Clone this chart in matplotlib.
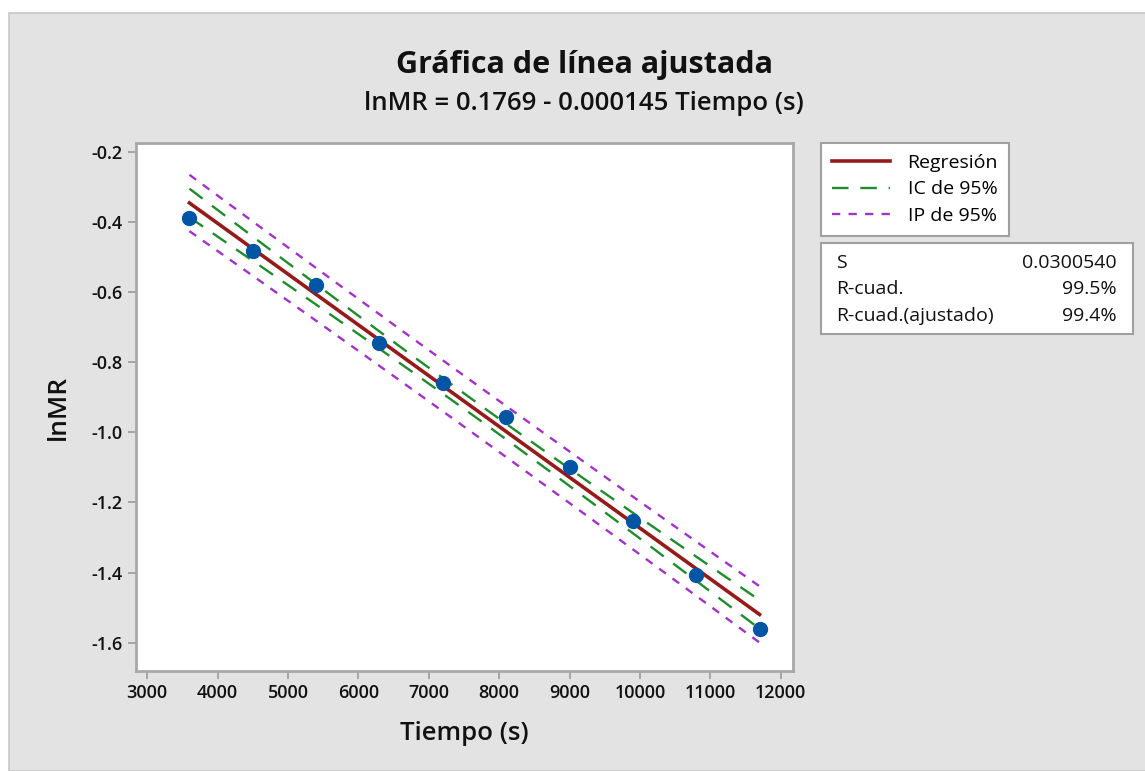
import numpy as np
import matplotlib
matplotlib.use("Agg")
import matplotlib.pyplot as plt
from matplotlib.patches import Rectangle
from matplotlib.lines import Line2D

plt.rcParams["font.family"] = ["Open Sans", "DejaVu Sans"]

# measurements: drying time (s) vs ln of moisture ratio
tiempo = np.array([3600, 4500, 5400, 6300, 7200, 8100, 9000, 9900, 10800, 11700])
ln_mr = np.array([-0.388, -0.482, -0.580, -0.745, -0.860, -0.957, -1.098,
                  -1.252, -1.407, -1.561])

# fitted model as reported
intercept = 0.1769
slope = -0.000145
s_value = 0.0300540
r_sq = 99.5
r_sq_adj = 99.4
t_crit = 2.306  # t(0.975, n-2) with n = 10

xticks = [3000, 4000, 5000, 6000, 7000, 8000, 9000, 10000, 11000, 12000]
yticks = [-0.2, -0.4, -0.6, -0.8, -1.0, -1.2, -1.4, -1.6]

W, H = 1145, 771
fig = plt.figure(figsize=(W / 100, H / 100), dpi=100, facecolor="white")

# grey panel behind everything
fig.patches.append(Rectangle((9 / W, 0), 1, 1 - 13 / H, transform=fig.transFigure,
                             facecolor="#E3E3E3", edgecolor="#C8C8C8", lw=1.2,
                             zorder=0))

ax = fig.add_axes([136 / W, 1 - 671 / H, (793 - 136) / W, (671 - 143) / H])
ax.set_zorder(2)
ax.set_facecolor("white")

# fitted line with confidence / prediction bands
xs = np.linspace(tiempo.min(), tiempo.max(), 200)
fit = intercept + slope * xs
n = len(tiempo)
sxx = np.sum((tiempo - tiempo.mean()) ** 2)
lev = 1 / n + (xs - tiempo.mean()) ** 2 / sxx
ci = t_crit * s_value * np.sqrt(lev)
pi = t_crit * s_value * np.sqrt(1 + lev)

ci_col = "#1E8C2A"
pi_col = "#A232C8"
reg_col = "#951B1B"
ax.plot(xs, fit + pi, color=pi_col, lw=1.7, dashes=(3.5, 3.5), zorder=2)
ax.plot(xs, fit - pi, color=pi_col, lw=1.7, dashes=(3.5, 3.5), zorder=2)
ax.plot(xs, fit + ci, color=ci_col, lw=1.7, dashes=(7, 5), zorder=2)
ax.plot(xs, fit - ci, color=ci_col, lw=1.7, dashes=(7, 5), zorder=2)
ax.plot(xs, fit, color=reg_col, lw=2.6, zorder=3)
ax.plot(tiempo, ln_mr, "o", color="#0055A5", ms=10, mec="#0055A5", zorder=4)

ax.set_xlim(2841, 12175)
ax.set_ylim(-1.681, -0.174)
ax.set_xticks(xticks)
ax.set_yticks(yticks)
ax.set_xticklabels([str(v) for v in xticks])
ax.set_yticklabels(["%.1f" % v for v in yticks])
ax.tick_params(colors="#A0A0A0", labelcolor="#111111", labelsize=13,
               length=6, width=1.3, direction="out")
for lab in ax.get_xticklabels() + ax.get_yticklabels():
    lab.set_fontweight("semibold")
for sp in ax.spines.values():
    sp.set_color("#A8A8A8")
    sp.set_linewidth(2)

fig.text(584 / W, 1 - 65 / H, "Gráfica de línea ajustada", ha="center",
         va="center", fontsize=22, fontweight="bold", color="#111111")
fig.text(584 / W, 1 - 104 / H,
         "lnMR = %.4f - %.6f Tiempo (s)" % (intercept, -slope), ha="center",
         va="center", fontsize=18.5, fontweight="semibold", color="#111111")
fig.text(464 / W, 1 - 733 / H, "Tiempo (s)", ha="center", va="center",
         fontsize=18.5, fontweight="semibold", color="#111111")
fig.text(58 / W, 1 - 407 / H, "lnMR", ha="center", va="center", rotation=90,
         fontsize=19, fontweight="semibold", color="#111111")

# legend box
handles = [Line2D([], [], color=reg_col, lw=2.6),
           Line2D([], [], color=ci_col, lw=1.7, dashes=(7, 5)),
           Line2D([], [], color=pi_col, lw=1.7, dashes=(3.5, 3.5))]
leg = fig.legend(handles, ["Regresión", "IC de 95%", "IP de 95%"],
                 loc="upper left", bbox_to_anchor=(821 / W, 1 - 143 / H),
                 bbox_transform=fig.transFigure, fontsize=14, frameon=True,
                 fancybox=False, framealpha=1, handlelength=3.0,
                 handletextpad=0.9, labelspacing=0.45, borderpad=0.55,
                 borderaxespad=0)
leg.get_frame().set_edgecolor("#A0A0A0")
leg.get_frame().set_linewidth(1.5)

# summary statistics box
fig.patches.append(Rectangle((821 / W, 1 - 334 / H), (1133 - 821) / W,
                             (334 - 243) / H, transform=fig.transFigure,
                             facecolor="white", edgecolor="#A0A0A0", lw=1.5,
                             zorder=1))
rows = [("S", "%.7f" % s_value),
        ("R-cuad.", "%.1f%%" % r_sq),
        ("R-cuad.(ajustado)", "%.1f%%" % r_sq_adj)]
for i, (lab, val) in enumerate(rows):
    yy = 1 - (263 + 26.5 * i) / H
    fig.text(836 / W, yy, lab, ha="left", va="center", fontsize=14,
             color="#111111", zorder=2)
    fig.text(1117 / W, yy, val, ha="right", va="center", fontsize=14,
             color="#111111", zorder=2)

fig.savefig("out.png", dpi=100, facecolor=fig.get_facecolor())
